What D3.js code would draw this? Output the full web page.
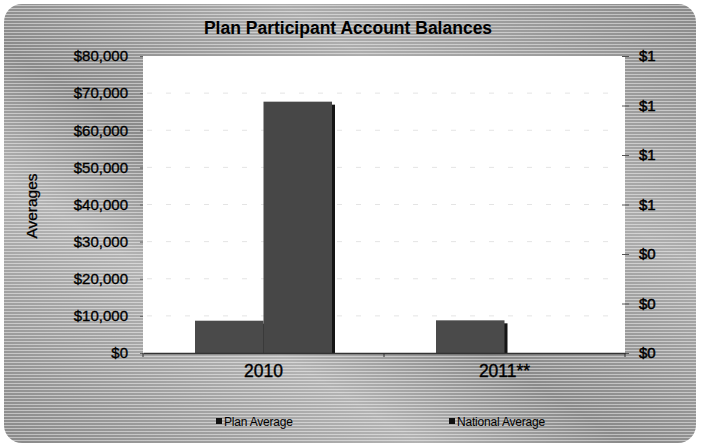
<!DOCTYPE html>
<html>
<head>
<meta charset="utf-8">
<script src="https://cdn.jsdelivr.net/npm/d3@7"></script>
<style>
  body { margin: 0; background: #fff; }
  text { font-family: "Liberation Sans", Arial, sans-serif; }
</style>
</head>
<body>
<div id="chart"></div>
<script>
var categories = ["2010", "2011**"];
var seriesNames = ["Plan Average", "National Average"];
var planAverage = [8700, 8800];
var nationalAverage = [67700, 0];
var leftTicks = [0, 10000, 20000, 30000, 40000, 50000, 60000, 70000, 80000];
var rightTicks = [0, 0.2, 0.4, 0.6, 0.8, 1.0, 1.2];

function init()
{
  var width = 701, height = 447;
  var left = 143, right = 625, top = 56, bottom = 353;

  var svg = d3.select("#chart")
    .append("svg")
    .attr("width", width)
    .attr("height", height);

  var defs = svg.append("defs");

  // scan-like horizontal stripes for the chart background
  var pat = defs.append("pattern")
    .attr("id", "stripes")
    .attr("width", 4)
    .attr("height", 3)
    .attr("patternUnits", "userSpaceOnUse");
  pat.append("rect").attr("width", 4).attr("height", 3).attr("fill", "#8a8a8a");
  pat.append("rect").attr("y", 2).attr("width", 4).attr("height", 1).attr("fill", "#c0c0c0");

  var grad = defs.append("linearGradient")
    .attr("id", "swath")
    .attr("x1", "0").attr("y1", "1").attr("x2", "1").attr("y2", "0");
  grad.append("stop").attr("offset", "0%").attr("stop-color", "#fff").attr("stop-opacity", 0);
  grad.append("stop").attr("offset", "30%").attr("stop-color", "#fff").attr("stop-opacity", 0.35);
  grad.append("stop").attr("offset", "45%").attr("stop-color", "#fff").attr("stop-opacity", 0);
  grad.append("stop").attr("offset", "70%").attr("stop-color", "#fff").attr("stop-opacity", 0.3);
  grad.append("stop").attr("offset", "100%").attr("stop-color", "#fff").attr("stop-opacity", 0);

  svg.append("rect")
    .attr("x", 4).attr("y", 4)
    .attr("width", width - 9).attr("height", height - 8)
    .attr("rx", 18)
    .style("fill", "url(#stripes)");

  svg.append("rect")
    .attr("x", 4).attr("y", 4)
    .attr("width", width - 9).attr("height", height - 8)
    .attr("rx", 18)
    .style("fill", "url(#swath)");

  // plot area
  svg.append("rect")
    .attr("x", left).attr("y", top)
    .attr("width", right - left).attr("height", bottom - top)
    .style("fill", "white");

  var xScale = d3.scaleBand()
    .domain(categories)
    .range([left, right]);

  var x1 = d3.scaleBand()
    .domain(seriesNames)
    .range([52, xScale.bandwidth() - 52]);

  var yScale = d3.scaleLinear()
    .domain([0, 80000])
    .range([bottom, top]);

  var y2Scale = d3.scaleLinear()
    .domain([0, 1.2])
    .range([bottom, top]);

  // faint gridlines
  svg.selectAll(".grid")
    .data(leftTicks.slice(1, -1))
    .enter()
    .append("line")
      .attr("x1", left + 4).attr("x2", right - 4)
      .attr("y1", function(d) {return yScale(d);})
      .attr("y2", function(d) {return yScale(d);})
      .style("stroke", "#e4e4e4")
      .style("stroke-width", 1)
      .style("stroke-dasharray", "5,14");

  // bars
  var rows = categories.map(function(c, i) {
    return [{cat: c, name: seriesNames[0], value: planAverage[i]},
            {cat: c, name: seriesNames[1], value: nationalAverage[i]}];
  });
  var bars = [].concat.apply([], rows).filter(function(d) {return d.value > 0;});

  svg.selectAll(".shadow")
    .data(bars)
    .enter()
    .append("rect")
      .attr("x", function(d) {return xScale(d.cat) + x1(d.name) + 3;})
      .attr("y", function(d) {return yScale(d.value) + 3;})
      .attr("width", x1.bandwidth())
      .attr("height", function(d) {return bottom - yScale(d.value) - 3;})
      .style("fill", "#151515");

  svg.selectAll(".bar")
    .data(bars)
    .enter()
    .append("rect")
      .attr("x", function(d) {return xScale(d.cat) + x1(d.name);})
      .attr("y", function(d) {return yScale(d.value);})
      .attr("width", x1.bandwidth())
      .attr("height", function(d) {return bottom - yScale(d.value);})
      .style("fill", function(d) {return d.name == seriesNames[0] ? "#4a4a4a" : "#474747";});

  // axes
  var yAxis = d3.axisLeft(yScale)
    .tickValues(leftTicks)
    .tickSize(3)
    .tickFormat(function(d) {return "$" + d3.format(",")(d);});

  var gy = svg.append("g")
    .attr("transform", "translate(" + left + ",0)")
    .call(yAxis);
  gy.select(".domain").remove();
  gy.selectAll("line").style("stroke", "#666");
  gy.selectAll("text")
    .attr("x", -15)
    .style("font-size", "15px")
    .style("fill", "#000")
    .style("stroke", "#000")
    .style("stroke-width", 0.35);

  var y2Axis = d3.axisRight(y2Scale)
    .tickValues(rightTicks)
    .tickSize(4)
    .tickFormat(function(d) {return "$" + Math.round(d);});

  var gy2 = svg.append("g")
    .attr("transform", "translate(" + right + ",0)")
    .call(y2Axis);
  gy2.select(".domain").remove();
  gy2.selectAll("line").attr("x1", -3).style("stroke", "#555");
  gy2.selectAll("text")
    .attr("x", 14)
    .style("font-size", "15px")
    .style("fill", "#000")
    .style("stroke", "#000")
    .style("stroke-width", 0.5);

  var xAxis = d3.axisBottom(xScale)
    .tickSize(0);

  var gx = svg.append("g")
    .attr("transform", "translate(0," + bottom + ")")
    .call(xAxis);
  gx.select(".domain")
    .style("stroke", "#333")
    .style("stroke-width", 1.5);
  gx.selectAll("text")
    .attr("y", 12)
    .style("font-size", "17.5px")
    .style("fill", "#000")
    .style("stroke", "#000")
    .style("stroke-width", 0.35);

  // tick marks between categories
  svg.selectAll(".xtick")
    .data(categories.concat(["end"]))
    .enter()
    .append("line")
      .attr("x1", function(d, i) {return left + i * xScale.bandwidth();})
      .attr("x2", function(d, i) {return left + i * xScale.bandwidth();})
      .attr("y1", bottom)
      .attr("y2", bottom + 4)
      .style("stroke", "#333");

  // titles
  svg.append("text")
    .attr("x", 348)
    .attr("y", 34)
    .style("text-anchor", "middle")
    .style("font-size", "17.5px")
    .style("font-weight", "bold")
    .text("Plan Participant Account Balances");

  svg.append("text")
    .attr("transform", "translate(37,206) rotate(-90)")
    .style("text-anchor", "middle")
    .style("font-size", "15.5px")
    .style("stroke", "#000")
    .style("stroke-width", 0.3)
    .text("Averages");

  // legend
  var legendX = [216, 449];
  var legend = svg.selectAll(".legend")
    .data(seriesNames)
    .enter()
    .append("g")
      .attr("transform", function(d, i) {return "translate(" + legendX[i] + ",426)";});

  legend.append("rect")
    .attr("x", 0).attr("y", -8)
    .attr("width", 6).attr("height", 6)
    .style("fill", "#111");

  legend.append("text")
    .attr("x", 8)
    .attr("y", 0)
    .style("font-size", "12px")
    .style("letter-spacing", "-0.2px")
    .text(function(d) {return d;});
}

window.onload = init;
</script>
</body>
</html>
